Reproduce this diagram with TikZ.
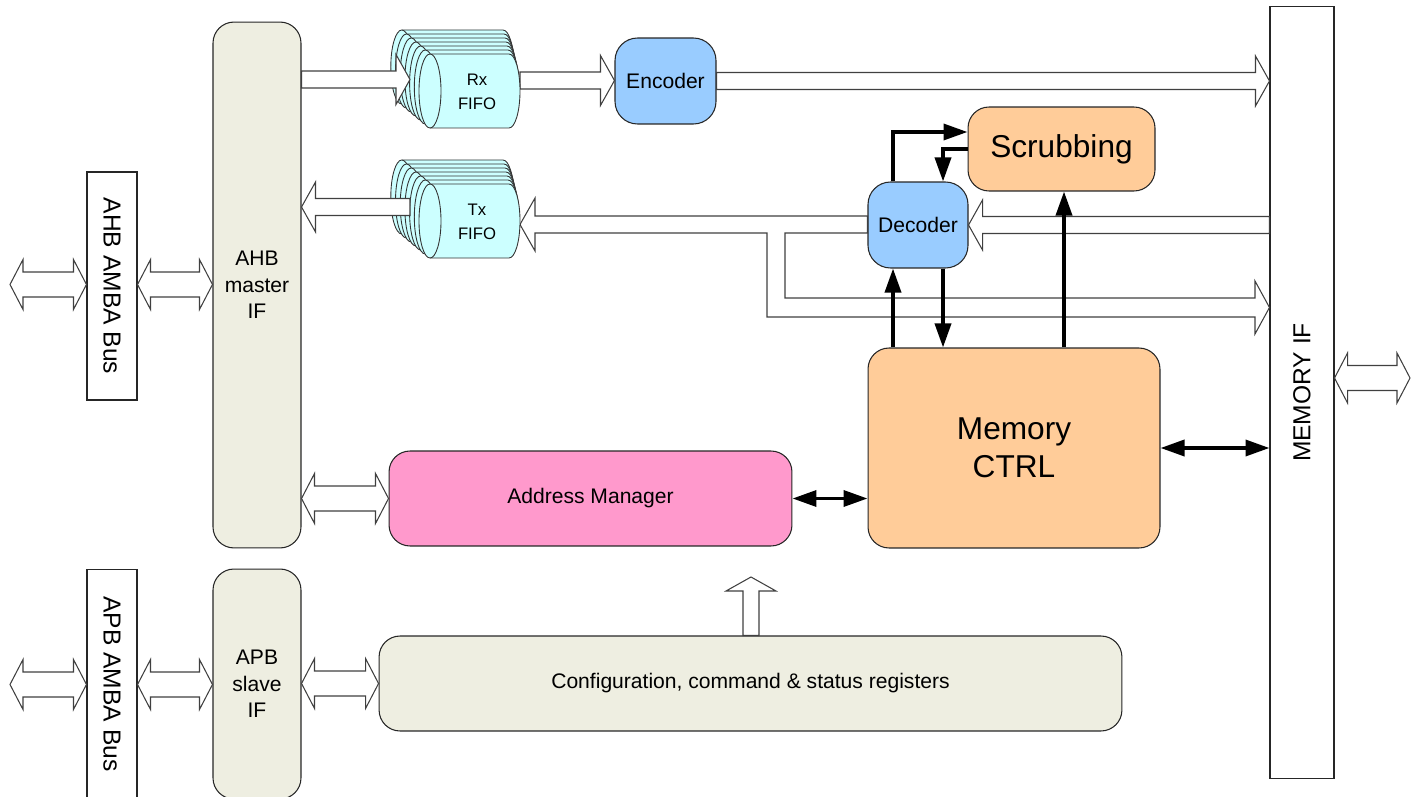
\documentclass[tikz,border=0pt]{standalone}
\usepackage{fontspec}
\setmainfont{Liberation Sans}
\usetikzlibrary{arrows.meta,calc}
\definecolor{ifbeige}{RGB}{238,238,225}
\definecolor{codecblue}{RGB}{153,204,255}
\definecolor{ctrlorange}{RGB}{255,204,153}
\definecolor{addrpink}{RGB}{255,153,204}
\definecolor{fifocyan}{RGB}{204,255,255}
\definecolor{busgray}{RGB}{64,64,64}

% hollow bus arrow, one head: [shaft half width]{from}{to}
\newcommand{\busarrow}[3][0.17cm]{%
  \path (#2) coordinate (bs) (#3) coordinate (be);
  \path ($(be)!0.28cm!(bs)$) coordinate (bh);
  \draw[busline] ($(bs)!#1!90:(be)$) -- ($(bh)!#1!-90:(bs)$) -- ($(bh)!0.5cm!-90:(bs)$) -- (be)
    -- ($(bh)!0.5cm!90:(bs)$) -- ($(bh)!#1!90:(bs)$) -- ($(bs)!#1!-90:(be)$) -- cycle;
}
% hollow bus arrow, both heads
\newcommand{\dbusarrow}[3][0.25cm]{%
  \path (#2) coordinate (bs) (#3) coordinate (be);
  \path ($(be)!0.26cm!(bs)$) coordinate (bh) ($(bs)!0.26cm!(be)$) coordinate (bt);
  \draw[busline] (bs) -- ($(bt)!0.5cm!-90:(be)$) -- ($(bt)!#1!-90:(be)$) -- ($(bh)!#1!90:(bs)$)
    -- ($(bh)!0.5cm!90:(bs)$) -- (be) -- ($(bh)!0.5cm!-90:(bs)$) -- ($(bh)!#1!-90:(bs)$)
    -- ($(bt)!#1!90:(be)$) -- ($(bt)!0.5cm!90:(be)$) -- cycle;
}
% one cylinder of a fifo stack: {left cap x}{centre y}{body length}
\newcommand{\fifolayer}[3]{%
  \filldraw[fifoskin] (#1,#2-37) -- (#1+#3,#2-37) arc[start angle=-90,end angle=90,x radius=11,y radius=37]
    -- (#1,#2+37) arc[start angle=90,end angle=270,x radius=11,y radius=37] -- cycle;
  \draw[fifoskin] (#1,#2-37) arc[start angle=-90,end angle=90,x radius=11,y radius=37];
}

\begin{document}
\begin{tikzpicture}[x=0.02cm,y=-0.02cm,
    blk/.style={draw=black!85,line width=0.6pt,align=center,inner sep=2pt,font=\fontsize{12}{15}\selectfont},
    ifbox/.style={blk,rounded corners=0.42cm,fill=ifbeige},
    barebox/.style={blk,fill=white,font=\fontsize{14}{16}\selectfont},
    codec/.style={blk,rounded corners=0.45cm,fill=codecblue},
    ctrlbox/.style={blk,rounded corners=0.42cm,fill=ctrlorange,font=\fontsize{18}{21.5}\selectfont},
    busline/.style={draw=busgray,fill=white,line width=0.6pt},
    fifoskin/.style={draw=black!80,fill=fifocyan,line width=0.5pt},
    fifotext/.style={font=\fontsize{9.5}{14}\selectfont,align=center},
    ctrlarrow/.style={line width=2pt,-{Triangle[length=0.48cm,width=0.32cm]}},
    ctrlboth/.style={line width=2pt,{Triangle[length=0.48cm,width=0.32cm]}-{Triangle[length=0.48cm,width=0.32cm]}}
  ]
  \useasboundingbox (0,0) rectangle (1416,797);

  \node[ifbox,minimum width=1.76cm,minimum height=10.52cm] (ahb) at (257,285) {AHB\\master\\IF};
  \node[ifbox,minimum width=1.76cm,minimum height=4.6cm] (apb) at (257,684) {APB\\slave\\IF};
  \node[barebox,minimum width=1cm,minimum height=4.56cm] (ahbbus) at (112,286) {\rotatebox{-90}{AHB AMBA Bus}};
  \node[barebox,minimum width=1cm,minimum height=4.6cm] (apbbus) at (112,684) {\rotatebox{-90}{APB AMBA Bus}};
  \node[barebox,minimum width=1.28cm,minimum height=15.46cm] (memif) at (1302,392.5) {\rotatebox{90}{MEMORY IF}};
  \node[codec,minimum width=2.02cm,minimum height=1.72cm] (enc) at (665.5,81) {Encoder};
  \node[codec,minimum width=2cm,minimum height=1.72cm] (dec) at (918,225) {Decoder};
  \node[ctrlbox,minimum width=3.74cm,minimum height=1.68cm] (scrub) at (1061.5,149) {Scrubbing};
  \node[ctrlbox,minimum width=5.84cm,minimum height=4cm] (mem) at (1014,448) {Memory\\CTRL};
  \node[blk,rounded corners=0.42cm,fill=addrpink,minimum width=8.06cm,minimum height=1.9cm] (addr) at (590.5,498.5) {Address Manager};
  \node[ifbox,minimum width=14.86cm,minimum height=1.9cm] (cfg) at (750.5,683.5) {Configuration, command \& status registers};

  \coordinate (rxin) at (410,79.5);
  \coordinate (rxout) at (520,80.5);
  \coordinate (txin) at (520,224.5);
  \coordinate (txout) at (410,207);
  \coordinate (ahbext) at (10,284.5);
  \coordinate (apbext) at (10,684.5);
  \coordinate (memext) at (1410,378);
  \coordinate (cfgup) at (751,577);

  % back of the fifo stacks
  \foreach \i in {6,...,1} {
    \fifolayer{430-4.7*\i}{91-4*\i}{79+3.7*\i}
    \fifolayer{430-4.7*\i}{221-4*\i}{79+3.7*\i}
  }

  \busarrow{ahb.east |- rxin}{rxin}
  \busarrow{rxout}{enc.west |- rxout}
  \busarrow{enc.east}{memif.west |- enc.east}
  \busarrow{txout}{ahb.east |- txout}
  \busarrow{memif.west |- dec.east}{dec.east}
  \draw[busline] (dec.west |- 0,216) -- (535,216) -- (535,198) -- (txin) -- (535,251) -- (535,233)
    -- (767,233) -- (767,317) -- (1255,317) -- (1255,334) -- (memif.west |- 0,307.5) -- (1255,281)
    -- (1255,298) -- (785,298) -- (785,233) -- (dec.west |- 0,233) -- cycle;
  \dbusarrow{ahbext}{ahbbus.west |- ahbext}
  \dbusarrow{ahbbus.east |- ahbext}{ahb.west |- ahbext}
  \dbusarrow{apbext}{apbbus.west |- apbext}
  \dbusarrow{apbbus.east |- apbext}{apb.west |- apbext}
  \dbusarrow{apb.east |- cfg.west}{cfg.west}
  \dbusarrow{ahb.east |- addr.west}{addr.west}
  \dbusarrow{memif.east |- memext}{memext}
  \busarrow[0.16cm]{cfg.north -| cfgup}{cfgup}

  % front cylinders
  \fifolayer{430}{91}{79}
  \fifolayer{430}{221}{79}
  \node[fifotext] (rxfifo) at (477,92) {Rx\\FIFO};
  \node[fifotext] (txfifo) at (477,222) {Tx\\FIFO};

  \draw[ctrlarrow] (dec.north -| 893,0) |- (scrub.west |- 0,132);
  \draw[ctrlarrow] (scrub.west) -| (dec.north -| 943,0);
  \draw[ctrlarrow] (mem.north -| 893,0) -- (dec.south -| 893,0);
  \draw[ctrlarrow] (dec.south -| 943,0) -- (mem.north -| 943,0);
  \draw[ctrlarrow] (mem.north -| 1064,0) -- (scrub.south -| 1064,0);
  \draw[ctrlboth] (mem.east) -- (memif.west |- mem.east);
  \draw[ctrlboth] (addr.east) -- (mem.west |- addr.east);
\end{tikzpicture}
\end{document}
